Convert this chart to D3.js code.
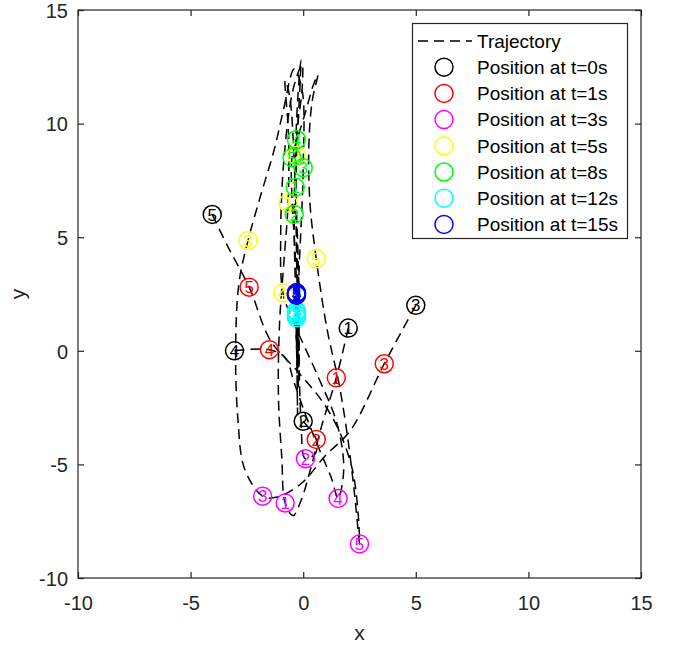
<!DOCTYPE html>
<html><head><meta charset="utf-8">
<script src="https://cdn.jsdelivr.net/npm/d3@7"></script>
<style>
body{margin:0;background:#fff}
text{font-family:"Liberation Sans",Arial,Helvetica,sans-serif}
</style>
</head><body>
<svg id="chart" width="686" height="650"></svg>
<script>
// ---------------- data ----------------
const agentIds = [1, 2, 3, 4, 5];
const timeLabels = ["Position at t=0s","Position at t=1s","Position at t=3s","Position at t=5s","Position at t=8s","Position at t=12s","Position at t=15s"];
const timeColors = ["#000000","#ff0000","#ff00ff","#ffff00","#00ff00","#00ffff","#0000ff"];
const xTicks = [-10, -5, 0, 5, 10, 15];
const yTicks = [-10, -5, 0, 5, 10, 15];

// positions [x, y] of agents 1..5 at each time
const posT0  = [[2.0,1.0],[0.0,-3.1],[5.0,2.0],[-3.05,0.0],[-4.04,6.0]];
const posT1  = [[1.47,-1.19],[0.58,-3.9],[3.6,-0.57],[-1.5,0.05],[-2.4,2.8]];
const posT3  = [[-0.8,-6.7],[0.1,-4.75],[-1.8,-6.4],[1.55,-6.5],[2.5,-8.5]];
const posT5  = [[-0.67,6.5],[-0.3,8.6],[-2.45,4.85],[-0.9,2.55],[0.58,4.05]];
const posT8  = [[-0.35,7.2],[-0.4,6.0],[0.0,8.06],[-0.3,9.3],[-0.5,8.5]];
const posT12 = [[-0.3,1.6],[-0.3,1.45],[-0.3,1.7],[-0.3,1.55],[-0.3,1.76]];
const posT15 = [[-0.3,2.5],[-0.3,2.45],[-0.3,2.55],[-0.3,2.5],[-0.3,2.55]];

// trajectory waypoints
const traj1 = [[2.0,1.0],[1.47,-1.19],[0.85,-3.2],[0.3,-5.3],[-0.1,-6.6],[-0.45,-7.25],[-0.8,-6.7],[-0.95,-4.7],[-1.1,-2.0],[-1.05,1.2],[-0.85,4.0],[-0.67,6.5],[-0.65,9.5],[-0.8,11.9],[-0.6,11.2],[-0.35,7.2],[-0.2,3.0],[-0.2,-1.2],[-0.25,0.4],[-0.3,1.6],[-0.3,2.3],[-0.3,2.5]];
const traj2 = [[0.0,-3.1],[0.58,-3.9],[0.55,-4.5],[0.1,-4.75],[-0.1,-3.0],[-0.2,0.5],[-0.3,4.5],[-0.3,8.6],[-0.15,11.5],[-0.1,12.8],[-0.25,11.0],[-0.4,6.0],[-0.3,1.0],[-0.25,-2.8],[-0.28,-0.5],[-0.3,1.45],[-0.3,2.2],[-0.3,2.45]];
const traj3 = [[5.0,2.0],[3.6,-0.57],[2.1,-3.5],[1.0,-4.6],[-0.1,-5.85],[-1.2,-6.45],[-1.8,-6.4],[-2.6,-5.2],[-2.9,-3.0],[-3.0,0.0],[-2.85,3.0],[-2.45,4.85],[-1.9,6.8],[-1.3,8.8],[-0.9,10.5],[-0.4,12.4],[-0.05,11.5],[0.0,8.06],[-0.2,3.0],[-0.25,-0.8],[-0.3,0.6],[-0.3,1.7],[-0.3,2.3],[-0.3,2.55]];
const traj4 = [[-3.05,0.0],[-1.5,0.05],[-0.8,-0.3],[-0.4,-1.4],[0.1,-2.8],[0.7,-4.3],[1.25,-5.6],[1.55,-6.5],[1.8,-5.2],[1.5,-3.2],[0.6,-1.0],[-0.4,1.2],[-0.9,2.55],[-1.0,5.0],[-0.85,8.5],[-0.45,11.5],[-0.05,12.6],[-0.05,11.5],[-0.3,9.3],[-0.25,3.0],[-0.2,-1.6],[-0.3,0.2],[-0.3,1.55],[-0.3,2.2],[-0.3,2.5]];
const traj5 = [[-4.04,6.0],[-3.3,4.5],[-2.4,2.8],[-1.45,0.45],[-0.25,-0.9],[0.9,-2.3],[1.65,-3.65],[2.2,-5.3],[2.45,-7.3],[2.5,-8.5],[2.3,-6.5],[2.0,-4.0],[1.6,-1.5],[1.05,1.0],[0.58,4.05],[0.3,6.5],[0.25,9.0],[0.4,11.0],[0.65,12.15],[0.45,11.7],[0.1,10.5],[-0.3,9.2],[-0.5,8.5],[-0.3,3.0],[-0.25,-0.5],[-0.3,0.8],[-0.3,1.76],[-0.3,2.3],[-0.3,2.55]];

const trajectories = [traj1, traj2, traj3, traj4, traj5];
const positions = [posT0, posT1, posT3, posT5, posT8, posT12, posT15];

// ---------------- layout ----------------
const L = 78, R = 641, T = 10, B = 578;
const axisColor = "#262626";
const svg = d3.select("#chart");
const x = d3.scaleLinear().domain([-10, 15]).range([L, R]);
const y = d3.scaleLinear().domain([-10, 15]).range([B, T]);

svg.append("rect").attr("x", 0).attr("y", 0).attr("width", 686).attr("height", 650).attr("fill", "#fff");

// trajectories
const line = d3.line().x(d => x(d[0])).y(d => y(d[1])).curve(d3.curveCatmullRom.alpha(0.5));
svg.append("g").selectAll("path").data(trajectories).join("path")
  .attr("d", line)
  .attr("fill", "none")
  .attr("stroke", "#000")
  .attr("stroke-width", 1.5)
  .attr("stroke-dasharray", "10,6");

// markers
positions.forEach((pos, ti) => {
  const g = svg.append("g");
  pos.forEach((p, ai) => {
    g.append("circle").attr("cx", x(p[0])).attr("cy", y(p[1])).attr("r", 9)
      .attr("fill", "none").attr("stroke", timeColors[ti]).attr("stroke-width", 1.5);
    g.append("text").attr("x", x(p[0])).attr("y", y(p[1])).attr("dy", "0.36em")
      .attr("text-anchor", "middle").attr("font-size", 17).attr("fill", timeColors[ti])
      .text(agentIds[ai]);
  });
});

// axes
const fs = 20;
const fmt = d => String(d);
const xAxis = d3.axisBottom(x).tickValues(xTicks).tickSize(-6).tickPadding(18).tickFormat(fmt);
const yAxis = d3.axisLeft(y).tickValues(yTicks).tickSize(-6).tickPadding(10).tickFormat(fmt);
const gx = svg.append("g").attr("transform", `translate(0,${B})`).call(xAxis);
const gy = svg.append("g").attr("transform", `translate(${L},0)`).call(yAxis);
const gxTop = svg.append("g").attr("transform", `translate(0,${T})`).call(d3.axisTop(x).tickValues(xTicks).tickSize(-6).tickFormat(""));
const gyRight = svg.append("g").attr("transform", `translate(${R},0)`).call(d3.axisRight(y).tickValues(yTicks).tickSize(-6).tickFormat(""));
[gx, gy, gxTop, gyRight].forEach(g => {
  g.select(".domain").remove();
  g.selectAll("line").attr("stroke", axisColor).attr("stroke-width", 1.2);
  g.selectAll("text").attr("fill", axisColor).attr("font-size", fs).attr("font-family", '"Liberation Sans",Arial,sans-serif');
});
gy.selectAll("text").attr("dy", "0.36em");
svg.append("rect").attr("x", L).attr("y", T).attr("width", R - L).attr("height", B - T)
  .attr("fill", "none").attr("stroke", axisColor).attr("stroke-width", 1.2);

// axis labels
svg.append("text").attr("x", (L + R) / 2).attr("y", 640).attr("text-anchor", "middle")
  .attr("font-size", 21).attr("fill", axisColor).text("x");
svg.append("text").attr("transform", `translate(25,${(T + B) / 2}) rotate(-90)`).attr("text-anchor", "middle")
  .attr("font-size", 21).attr("fill", axisColor).text("y");

// legend
const lg = svg.append("g");
lg.append("rect").attr("x", 412.5).attr("y", 23.5).attr("width", 215).attr("height", 215)
  .attr("fill", "#fff").attr("stroke", axisColor).attr("stroke-width", 1.2);
const rowY0 = 41, rowStep = 26.2;
lg.append("line").attr("x1", 418).attr("x2", 472).attr("y1", rowY0).attr("y2", rowY0)
  .attr("stroke", "#000").attr("stroke-width", 1.5).attr("stroke-dasharray", "10,6");
lg.append("text").attr("x", 477).attr("y", rowY0).attr("dy", "0.36em").attr("font-size", 19).attr("fill", "#000").text("Trajectory");
timeLabels.forEach((lab, i) => {
  const yy = rowY0 + rowStep * (i + 1);
  lg.append("circle").attr("cx", 444).attr("cy", yy).attr("r", 9)
    .attr("fill", "none").attr("stroke", timeColors[i]).attr("stroke-width", 1.5);
  lg.append("text").attr("x", 477).attr("y", yy).attr("dy", "0.36em").attr("font-size", 19).attr("fill", "#000").text(lab);
});
</script>
</body></html>
